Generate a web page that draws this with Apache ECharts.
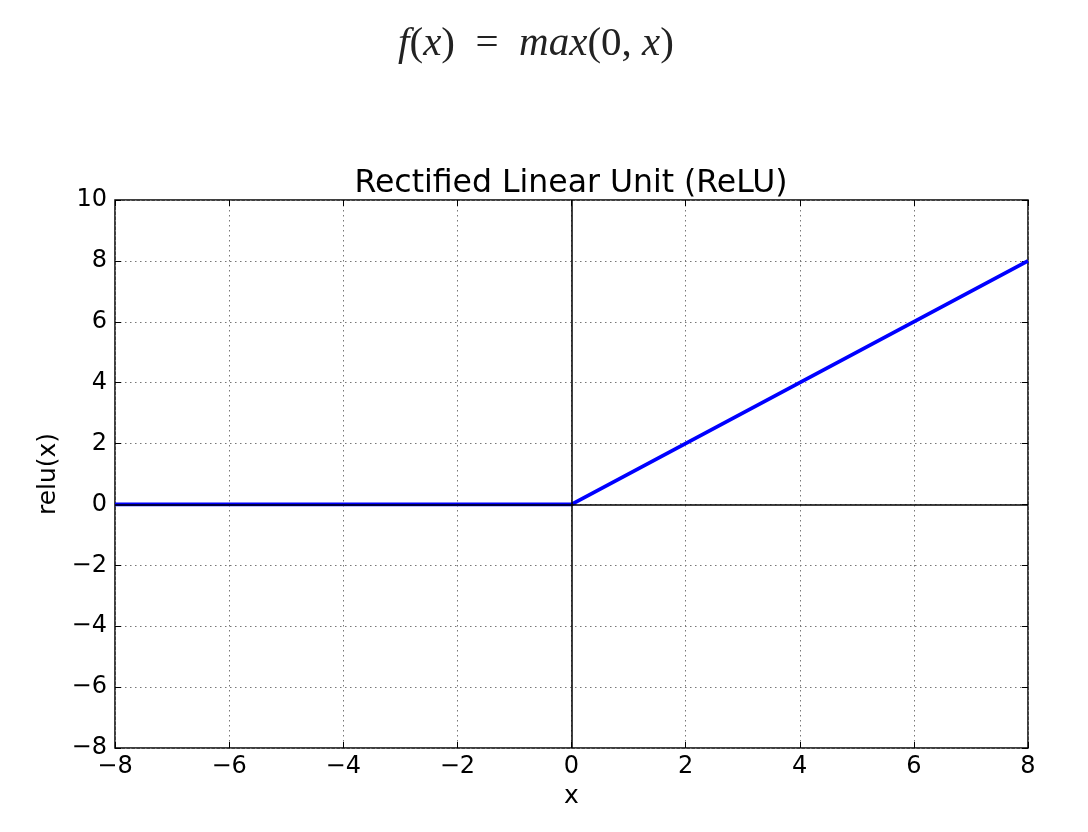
<!DOCTYPE html>
<html>
<head>
<meta charset="utf-8">
<script src="https://cdn.jsdelivr.net/npm/echarts@6/dist/echarts.min.js"></script>
<style>html,body{margin:0;padding:0;background:#fff}#c{width:1088px;height:832px}</style>
</head>
<body>
<div id="c"></div>
<script>
var xValues = [-8, 0, 8];
var reluValues = [0, 0, 8];
var xTicks = [-8, -6, -4, -2, 0, 2, 4, 6, 8];
var yTicks = [-8, -6, -4, -2, 0, 2, 4, 6, 8, 10];
var chartTitle = 'Rectified Linear Unit (ReLU)';
var xName = 'x';
var yName = 'relu(x)';

var chart = echarts.init(document.getElementById('c'));
var fmt = function (v) { return String(v).replace('-', '\u2212'); };
var font = 'DejaVu Sans';
var gridLine = { show: true, lineStyle: { color: '#777', type: [1.5, 3.5], width: 1 } };
var tick = { show: true, inside: true, length: 6, lineStyle: { color: '#000', width: 1 } };
var noLine = { show: false, onZero: false };

var option = {
  animation: false,
  backgroundColor: '#fff',
  title: {
    text: chartTitle,
    left: 566, textAlign: 'center',
    top: 163,
    textStyle: { fontFamily: font, fontSize: 31.5, fontWeight: 'normal', color: '#000' }
  },
  graphic: [{
    type: 'text',
    x: 536, y: 44,
    style: {
      text: '{i|f}{n|(}{i|x}{n|)  =  }{i|max}{n|(0, }{i|x}{n|)}',
      align: 'center', verticalAlign: 'middle',
      rich: {
        i: { fontFamily: 'Liberation Serif', fontStyle: 'italic', fontSize: 41, fill: '#222' },
        n: { fontFamily: 'Liberation Serif', fontSize: 41, fill: '#222' }
      }
    }
  }],
  grid: { left: 115, right: 60, top: 200, bottom: 84, show: true, borderColor: '#000', borderWidth: 1.5 },
  xAxis: [{
    type: 'value', min: -8, max: 8, interval: 2, position: 'bottom',
    name: xName, nameLocation: 'middle', nameGap: 34,
    nameTextStyle: { fontFamily: font, fontSize: 25, color: '#000' },
    axisLine: noLine, axisTick: tick, splitLine: gridLine,
    axisLabel: { fontFamily: font, fontSize: 24, color: '#000', margin: 7, formatter: fmt }
  }, {
    type: 'value', min: -8, max: 8, interval: 2, position: 'top',
    axisLine: noLine, axisTick: tick, splitLine: { show: false }, axisLabel: { show: false }
  }],
  yAxis: [{
    type: 'value', min: -8, max: 10, interval: 2, position: 'left',
    name: yName, nameLocation: 'middle', nameGap: 52,
    nameTextStyle: { fontFamily: font, fontSize: 25, color: '#000' },
    axisLine: noLine, axisTick: tick, splitLine: gridLine,
    axisLabel: { fontFamily: font, fontSize: 24, color: '#000', margin: 8, formatter: fmt }
  }, {
    type: 'value', min: -8, max: 10, interval: 2, position: 'right',
    axisLine: noLine, axisTick: tick, splitLine: { show: false }, axisLabel: { show: false }
  }],
  series: [{
    type: 'line', z: 2,
    data: xValues.map(function (x, i) { return [x, reluValues[i]]; }),
    symbol: 'none',
    lineStyle: { color: '#0000ff', width: 3.8 }
  }, {
    type: 'line', z: 3, data: [], symbol: 'none',
    markLine: {
      silent: true, symbol: 'none', label: { show: false },
      lineStyle: { color: '#000', width: 1.5, type: 'solid' },
      data: [{ xAxis: 0 }, { yAxis: 0 }]
    }
  }]
};
chart.setOption(option);
</script>
</body>
</html>
